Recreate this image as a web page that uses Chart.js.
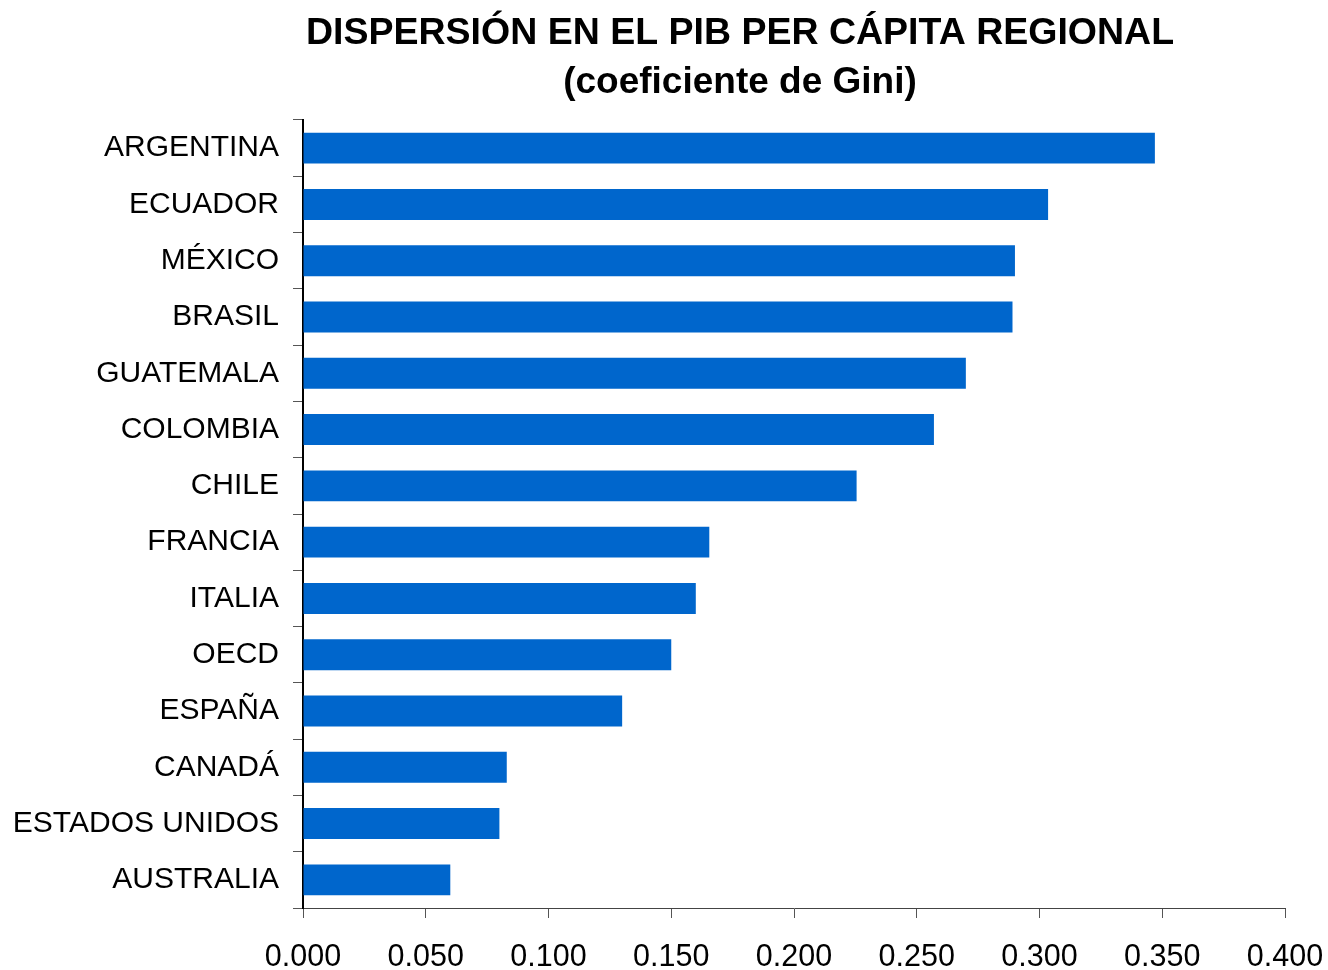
<!DOCTYPE html>
<html>
<head>
<meta charset="utf-8">
<script src="https://cdn.jsdelivr.net/npm/chart.js@4.4.0/dist/chart.umd.min.js"></script>
<style>
  html, body { margin: 0; padding: 0; background: #fff; }
  canvas { display: block; }
</style>
</head>
<body>
<canvas id="c" width="1328" height="970"></canvas>
<script>
// datos
const paises = ['ARGENTINA', 'ECUADOR', 'MÉXICO', 'BRASIL', 'GUATEMALA', 'COLOMBIA', 'CHILE',
  'FRANCIA', 'ITALIA', 'OECD', 'ESPAÑA', 'CANADÁ', 'ESTADOS UNIDOS', 'AUSTRALIA'];
const gini = [0.347, 0.3035, 0.290, 0.289, 0.270, 0.257, 0.2255,
  0.1655, 0.160, 0.150, 0.130, 0.083, 0.080, 0.060];
const tituloLineas = ['DISPERSIÓN EN EL PIB PER CÁPITA REGIONAL', '(coeficiente de Gini)'];
const ejeMin = 0, ejeMax = 0.4, ejePaso = 0.05;

const FONT = '"Liberation Sans", Arial, sans-serif';

// título a mano, centrado donde está en el original
const tituloPlugin = {
  id: 'titulo',
  afterDraw(chart) {
    const ctx = chart.ctx;
    ctx.save();
    ctx.fillStyle = '#000';
    ctx.font = 'bold 37.5px ' + FONT;
    ctx.textAlign = 'center';
    ctx.textBaseline = 'alphabetic';
    ctx.fillText(tituloLineas[0], 740, 44);
    ctx.font = 'bold 37px ' + FONT;
    ctx.fillText(tituloLineas[1], 740, 93);
    ctx.restore();
  }
};

new Chart(document.getElementById('c'), {
  type: 'bar',
  data: {
    labels: paises,
    datasets: [{
      data: gini,
      backgroundColor: '#0066CC',
      borderWidth: 0,
      barPercentage: 0.55,
      categoryPercentage: 1
    }]
  },
  options: {
    indexAxis: 'y',
    responsive: false,
    animation: false,
    layout: { padding: { top: 120, right: 43, left: 0, bottom: 0 } },
    plugins: { legend: { display: false }, tooltip: { enabled: false }, title: { display: false } },
    scales: {
      x: {
        min: ejeMin,
        max: ejeMax,
        afterFit(s) { s.height = 62; s.paddingLeft = 0; s.paddingRight = 0; },
        ticks: {
          stepSize: ejePaso,
          color: '#000',
          padding: 21,
          font: { family: FONT, size: 30.5 },
          callback: v => Number(v).toFixed(3)
        },
        grid: { drawOnChartArea: false, tickLength: 10, color: '#555', lineWidth: 1 },
        border: { color: '#444', width: 1 }
      },
      y: {
        afterFit(s) { s.width = 303; s.paddingTop = 0; s.paddingBottom = 0; },
        ticks: {
          color: '#000',
          padding: 14,
          font: { family: FONT, size: 30 }
        },
        grid: { drawOnChartArea: false, offset: true, tickLength: 10, color: '#555', lineWidth: 1 },
        border: { color: '#000', width: 2 }
      }
    }
  },
  plugins: [tituloPlugin]
});
</script>
</body>
</html>
